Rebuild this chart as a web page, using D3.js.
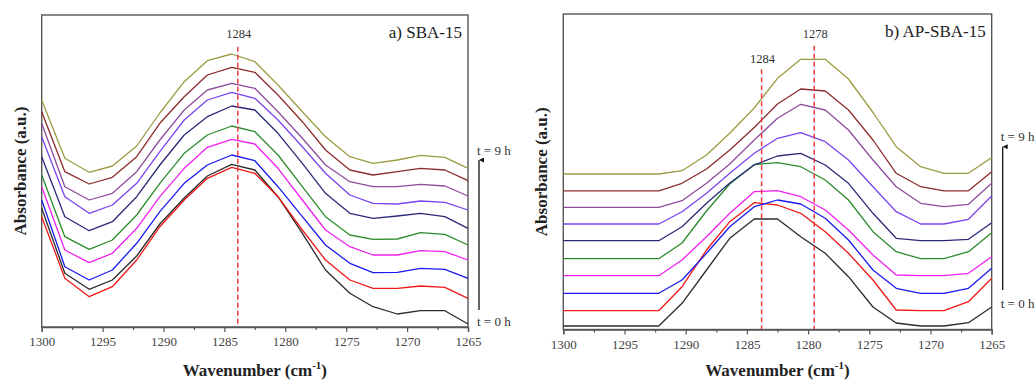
<!DOCTYPE html>
<html>
<head>
<meta charset="utf-8">
<script src="https://cdn.jsdelivr.net/npm/d3@7"></script>
<style>
  body { margin: 0; background: #fff; }
  svg, svg text { font-family: "Liberation Serif", "DejaVu Serif", serif; }
</style>
</head>
<body>
<div id="chart"></div>
<script>
// wavenumber grid (cm-1), same for both panels
const wavenumbers = [1300, 1298.1, 1296.1, 1294.2, 1292.2, 1290.3, 1288.3, 1286.4, 1284.4, 1282.5,
  1280.6, 1278.6, 1276.7, 1274.7, 1272.8, 1270.8, 1268.9, 1266.9, 1265];
const majorTicks = [1300, 1295, 1290, 1285, 1280, 1275, 1270, 1265];
const minorTicks = [1297.5, 1292.5, 1287.5, 1282.5, 1277.5, 1272.5, 1267.5];

// t = 0 h ... t = 9 h
const timeLabels = ["0 h", "1 h", "2 h", "3 h", "4 h", "5 h", "6 h", "7 h", "8 h", "9 h"];
const lineColors = ["#2b2b2b", "#f01818", "#1a1af0", "#f020f0", "#2c8c2c", "#2a2a78", "#7a44ee", "#8e4c9c", "#8c2c2c", "#9c9c44"];

// a) SBA-15, absorbance (a.u.), offset traces, t = 0 h first
const sba15Series = [
  [1.187, 0.537, 0.377, 0.470, 0.710, 1.030, 1.290, 1.510, 1.627, 1.570, 1.303, 0.937, 0.570, 0.337, 0.203, 0.130, 0.163, 0.163, 0.030],
  [1.103, 0.487, 0.303, 0.403, 0.670, 1.003, 1.270, 1.487, 1.597, 1.537, 1.303, 0.970, 0.670, 0.470, 0.387, 0.387, 0.410, 0.397, 0.287],
  [1.270, 0.603, 0.470, 0.570, 0.837, 1.153, 1.437, 1.620, 1.720, 1.663, 1.403, 1.103, 0.820, 0.637, 0.543, 0.547, 0.587, 0.577, 0.487],
  [1.403, 0.770, 0.643, 0.737, 0.987, 1.303, 1.587, 1.797, 1.877, 1.830, 1.587, 1.270, 0.970, 0.803, 0.720, 0.720, 0.763, 0.753, 0.670],
  [1.520, 0.903, 0.777, 0.870, 1.120, 1.437, 1.737, 1.920, 2.010, 1.953, 1.720, 1.403, 1.103, 0.920, 0.877, 0.880, 0.943, 0.927, 0.820],
  [1.703, 1.103, 0.963, 1.053, 1.303, 1.620, 1.920, 2.103, 2.210, 2.170, 1.937, 1.637, 1.337, 1.137, 1.087, 1.110, 1.137, 1.103, 0.987],
  [1.903, 1.303, 1.137, 1.220, 1.437, 1.753, 2.070, 2.270, 2.347, 2.287, 2.070, 1.803, 1.537, 1.320, 1.237, 1.230, 1.260, 1.247, 1.170],
  [2.037, 1.403, 1.270, 1.337, 1.553, 1.870, 2.170, 2.370, 2.437, 2.387, 2.153, 1.887, 1.620, 1.453, 1.403, 1.403, 1.427, 1.410, 1.310],
  [2.153, 1.553, 1.430, 1.497, 1.703, 2.037, 2.303, 2.520, 2.597, 2.547, 2.320, 2.053, 1.770, 1.570, 1.520, 1.553, 1.587, 1.570, 1.463],
  [2.270, 1.687, 1.547, 1.610, 1.810, 2.140, 2.453, 2.663, 2.730, 2.653, 2.420, 2.153, 1.903, 1.703, 1.637, 1.670, 1.717, 1.697, 1.587]
];

// b) AP-SBA-15
const apSba15Series = [
  [0.035, 0.035, 0.035, 0.035, 0.035, 0.262, 0.595, 0.912, 1.105, 1.105, 0.928, 0.762, 0.528, 0.225, 0.065, 0.035, 0.035, 0.068, 0.225],
  [0.188, 0.188, 0.188, 0.188, 0.188, 0.428, 0.795, 1.078, 1.268, 1.245, 1.162, 0.978, 0.762, 0.495, 0.195, 0.188, 0.188, 0.278, 0.512],
  [0.362, 0.362, 0.362, 0.362, 0.362, 0.495, 0.762, 1.028, 1.228, 1.295, 1.255, 1.112, 0.895, 0.595, 0.412, 0.362, 0.362, 0.412, 0.612],
  [0.538, 0.538, 0.538, 0.538, 0.538, 0.695, 0.928, 1.162, 1.378, 1.388, 1.328, 1.195, 0.995, 0.745, 0.545, 0.538, 0.538, 0.562, 0.728],
  [0.708, 0.708, 0.708, 0.708, 0.708, 0.865, 1.185, 1.455, 1.650, 1.668, 1.628, 1.495, 1.295, 0.978, 0.778, 0.708, 0.708, 0.778, 0.968],
  [0.888, 0.888, 0.888, 0.888, 0.888, 1.028, 1.262, 1.465, 1.645, 1.735, 1.762, 1.645, 1.462, 1.162, 0.912, 0.888, 0.888, 0.902, 1.068],
  [1.055, 1.055, 1.055, 1.055, 1.055, 1.178, 1.362, 1.562, 1.762, 1.912, 1.968, 1.878, 1.695, 1.428, 1.178, 1.055, 1.055, 1.102, 1.335],
  [1.222, 1.222, 1.222, 1.222, 1.222, 1.288, 1.462, 1.655, 1.895, 2.112, 2.252, 2.195, 1.995, 1.695, 1.428, 1.262, 1.228, 1.252, 1.462],
  [1.387, 1.387, 1.387, 1.387, 1.387, 1.462, 1.605, 1.795, 2.020, 2.255, 2.405, 2.385, 2.195, 1.895, 1.562, 1.428, 1.387, 1.387, 1.578],
  [1.555, 1.555, 1.555, 1.555, 1.555, 1.588, 1.745, 1.962, 2.215, 2.512, 2.702, 2.702, 2.505, 2.170, 1.828, 1.628, 1.562, 1.562, 1.720]
];

// dashed peak markers
const sba15Peaks = [1283.9];
const sba15PeakLabels = ["1284"];
const apPeaks = [1283.8, 1279.5];
const apPeakLabels = ["1284", "1278"];

const W = 1035, H = 383;
const FONT = "Liberation Serif";
const svg = d3.select("#chart").append("svg")
  .attr("width", W).attr("height", H)
  .attr("font-family", FONT);

const panels = [
  { left: 41.7, right: 468, top: 15, bottom: 327, yMax: 3.12, series: sba15Series,
    peaks: sba15Peaks, peakLabels: sba15PeakLabels, peakTop: [46.7], labelY: [37.5],
    title: "a) SBA-15", yTitleX: 20, arrowX: 479, arrowTop: 160, arrowBottom: 310, t9Y: 155, t0Y: 326 },
  { left: 563.3, right: 991.7, top: 14, bottom: 329.5, yMax: 3.155, series: apSba15Series,
    peaks: apPeaks, peakLabels: apPeakLabels, peakTop: [69.3, 45.7], labelY: [62.5, 37.5],
    title: "b) AP-SBA-15", yTitleX: 541, arrowX: 1002.7, arrowTop: 146.7, arrowBottom: 290, t9Y: 141, t0Y: 308 }
];

svg.append("defs").append("marker")
  .attr("id", "arrowhead")
  .attr("viewBox", "0 0 10 10")
  .attr("refX", 5).attr("refY", 0)
  .attr("markerWidth", 5).attr("markerHeight", 8)
  .attr("markerUnits", "userSpaceOnUse")
  .attr("orient", "auto-start-reverse")
  .append("path")
  .attr("d", "M0,10 L5,0 L10,10 Z")
  .attr("fill", "#111");

panels.forEach(p => {
  const x = d3.scaleLinear().domain([1300, 1265]).range([p.left, p.right]);
  const y = d3.scaleLinear().domain([0, p.yMax]).range([p.bottom, p.top]);
  const g = svg.append("g").attr("font-family", FONT);

  // frame
  g.append("rect")
    .attr("x", p.left).attr("y", p.top)
    .attr("width", p.right - p.left).attr("height", p.bottom - p.top)
    .attr("fill", "none").attr("stroke", "#555").attr("stroke-width", 1.4);

  // traces
  const line = d3.line()
    .x((d, i) => x(wavenumbers[i]))
    .y(d => y(d));

  g.selectAll("path.trace")
    .data(p.series)
    .enter()
    .append("path")
    .attr("class", "trace")
    .attr("d", line)
    .attr("fill", "none")
    .attr("stroke", (d, i) => lineColors[i])
    .attr("stroke-width", 1.3)
    .attr("stroke-linejoin", "round");

  // peak markers
  p.peaks.forEach((wn, k) => {
    g.append("line")
      .attr("x1", x(wn)).attr("x2", x(wn))
      .attr("y1", p.peakTop[k]).attr("y2", p.bottom)
      .attr("stroke", "#ee3b3b").attr("stroke-width", 1.5)
      .attr("stroke-dasharray", "5,3");
    g.append("text")
      .attr("x", x(wn) + 1).attr("y", p.labelY[k])
      .attr("text-anchor", "middle")
      .attr("font-family", FONT)
      .attr("font-size", 12.5).attr("fill", "#333")
      .text(p.peakLabels[k]);
  });

  // x axis
  const axis = g.append("g")
    .attr("transform", `translate(0,${p.bottom})`)
    .call(d3.axisBottom(x).tickValues(majorTicks).tickSize(5).tickPadding(5).tickFormat(d3.format("d")));
  axis.attr("font-family", FONT);
  axis.select(".domain").attr("stroke", "#555").attr("stroke-width", 1.4);
  axis.selectAll(".tick line").attr("stroke", "#555").attr("stroke-width", 1.2);
  axis.selectAll(".tick text")
    .attr("font-family", FONT)
    .attr("font-size", 13).attr("fill", "#444");

  const minor = g.append("g")
    .attr("transform", `translate(0,${p.bottom})`)
    .call(d3.axisBottom(x).tickValues(minorTicks).tickSize(3).tickFormat(""));
  minor.select(".domain").remove();
  minor.selectAll(".tick line").attr("stroke", "#555").attr("stroke-width", 1.2);

  // axis titles
  const xt = g.append("text")
    .attr("x", (p.left + p.right) / 2).attr("y", 376)
    .attr("text-anchor", "middle")
    .attr("font-family", FONT)
    .attr("font-size", 17).attr("font-weight", "bold").attr("fill", "#222");
  xt.append("tspan").text("Wavenumber (cm");
  xt.append("tspan").attr("font-size", 11).attr("dy", -7).text("-1");
  xt.append("tspan").attr("dy", 7).text(")");

  g.append("text")
    .attr("transform", `translate(${p.yTitleX},${(p.top + p.bottom) / 2}) rotate(-90)`)
    .attr("text-anchor", "middle").attr("dy", "0.35em")
    .attr("font-family", FONT)
    .attr("font-size", 17).attr("font-weight", "bold").attr("fill", "#222")
    .text("Absorbance (a.u.)");

  // panel title
  g.append("text")
    .attr("x", p.right - 6).attr("y", p.top + 23)
    .attr("text-anchor", "end")
    .attr("font-family", FONT)
    .attr("font-size", 17).attr("fill", "#222")
    .text(p.title);

  // time arrow
  g.append("line")
    .attr("x1", p.arrowX).attr("x2", p.arrowX)
    .attr("y1", p.arrowBottom).attr("y2", p.arrowTop)
    .attr("stroke", "#111").attr("stroke-width", 1.3)
    .attr("marker-end", "url(#arrowhead)");

  g.append("text")
    .attr("x", p.arrowX - 2).attr("y", p.t9Y)
    .attr("font-family", FONT)
    .attr("font-size", 13).attr("fill", "#333")
    .text("t = " + timeLabels[timeLabels.length - 1]);
  g.append("text")
    .attr("x", p.arrowX - 2).attr("y", p.t0Y)
    .attr("font-family", FONT)
    .attr("font-size", 13).attr("fill", "#333")
    .text("t = " + timeLabels[0]);
});
</script>
</body>
</html>
